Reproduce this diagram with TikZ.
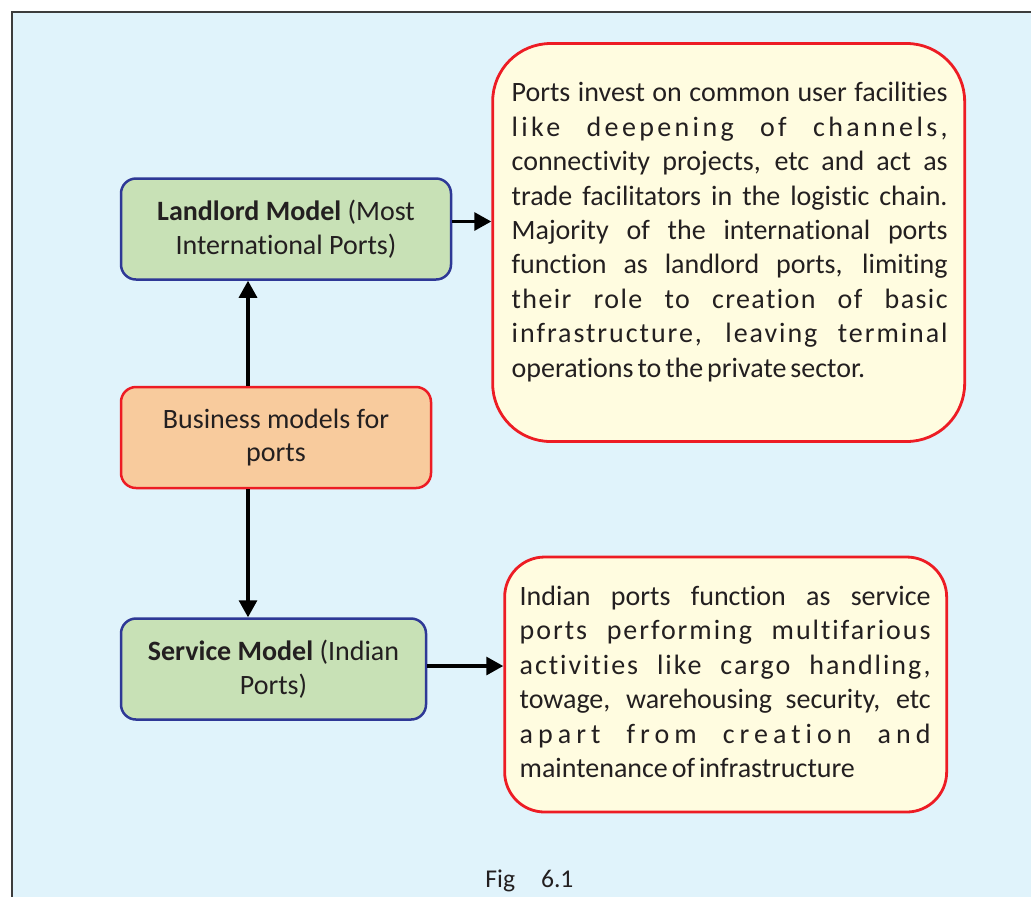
\documentclass[tikz,border=0pt]{standalone}
\usepackage{fontspec}
\setmainfont{Carlito}[Ligatures=NoCommon]
\usepackage{tikz}
\usetikzlibrary{arrows.meta, positioning}
\definecolor{PanelBlue}{RGB}{224,243,251}
\definecolor{FrameGray}{RGB}{60,60,60}
\definecolor{ModelGreen}{RGB}{200,225,182}
\definecolor{ModelBlue}{RGB}{46,56,150}
\definecolor{RootOrange}{RGB}{248,203,157}
\definecolor{PortRed}{RGB}{237,28,36}
\definecolor{NoteYellow}{RGB}{255,252,224}
\definecolor{InkBlack}{RGB}{35,31,32}

% one justified line of a note, with optional letter spacing
\newcommand{\spreadline}[2][0]{\makebox[\hsize][s]{\spaceskip=0pt\xspaceskip=0pt\addfontfeature{LetterSpace=#1}#2}}
\newcommand{\tightline}[1]{{\spaceskip=0.14em\relax #1}}

\begin{document}
\begin{tikzpicture}[
    x=0.5pt, y=-0.5pt,
    modelbox/.style={rectangle, rounded corners=7.5pt, draw=ModelBlue, fill=ModelGreen,
                     line width=1.25pt, minimum height=50.5pt, align=center,
                     text=InkBlack, font=\fontsize{14}{16.8}\selectfont},
    rootbox/.style={modelbox, draw=PortRed, fill=RootOrange},
    notebox/.style={rectangle, draw=PortRed, fill=NoteYellow, line width=1.4pt},
    notetext/.style={inner sep=0pt, anchor=north west, align=left,
                     text=InkBlack, font=\fontsize{14}{17.2}\selectfont},
    arrow/.style={-{Triangle[length=8.5pt, width=9pt]}, line width=1.6pt}
]
\useasboundingbox (0,0) rectangle (1031,896);
\clip (0,0) rectangle (1031,896);

% Panel
\draw[draw=FrameGray, fill=PanelBlue, line width=0.6pt] (12,12) rectangle (1045,910);

% Models
\node[rootbox, minimum width=155pt] (business) at (276,437.5) {Business models for\\ports};
\node[modelbox, minimum width=165pt, above=52.5pt of business, xshift=5pt] (landlord)
    {\textbf{Landlord Model} (Most\\International Ports)};
\node[modelbox, minimum width=152.5pt, below=64pt of business, xshift=-1.25pt] (service)
    {\textbf{Service Model} (Indian\\Ports)};

% Notes
\node[notebox, rounded corners=29pt, minimum width=236pt, minimum height=199pt,
      right=19.5pt of landlord, yshift=-6.75pt] (landnote) {};
\node[notetext, text width=218pt] (landtext) at ([xshift=10pt, yshift=-20pt]landnote.north west)
    {\spreadline{Ports invest on common user facilities}\\
     \spreadline[12]{like deepening of channels,}\\
     \spreadline{connectivity projects, etc and act as}\\
     \spreadline{trade facilitators in the logistic chain.}\\
     \spreadline{Majority of the international ports}\\
     \spreadline{function as landlord ports, limiting}\\
     \spreadline[5]{their role to creation of basic}\\
     \spreadline[7]{infrastructure, leaving terminal}\\
     \tightline{operations to the private sector.}};

\node[notebox, rounded corners=20pt, minimum width=221pt, minimum height=127.5pt,
      right=38pt of service, yshift=-7.75pt] (servicenote) {};
\node[notetext, text width=205.5pt] (servicetext) at ([xshift=8pt, yshift=-15pt]servicenote.north west)
    {\spreadline{Indian ports function as service}\\
     \spreadline[7]{ports performing multifarious}\\
     \spreadline[7]{activities like cargo handling,}\\
     \spreadline{towage, warehousing security, etc}\\
     \spreadline[18]{apart from creation and}\\
     \tightline{maintenance of infrastructure}};

% Caption
\node[anchor=base west, inner sep=0pt, text=InkBlack, font=\fontsize{12.8}{15}\selectfont]
    (figlabel) at (485,887) {Fig\hspace{13pt}6.1};

% Arrows
\draw[arrow] ([xshift=-14pt]business.north) -- ([xshift=-14pt]business.north |- landlord.south);
\draw[arrow] ([xshift=-14pt]business.south) -- ([xshift=-14pt]business.south |- service.north);
\draw[arrow] ([yshift=3.75pt]landlord.east) -- ([yshift=3.75pt]landlord.east -| landnote.west);
\draw[arrow] ([yshift=1.5pt]service.east) -- ([yshift=1.5pt]service.east -| servicenote.west);

\end{tikzpicture}
\end{document}
